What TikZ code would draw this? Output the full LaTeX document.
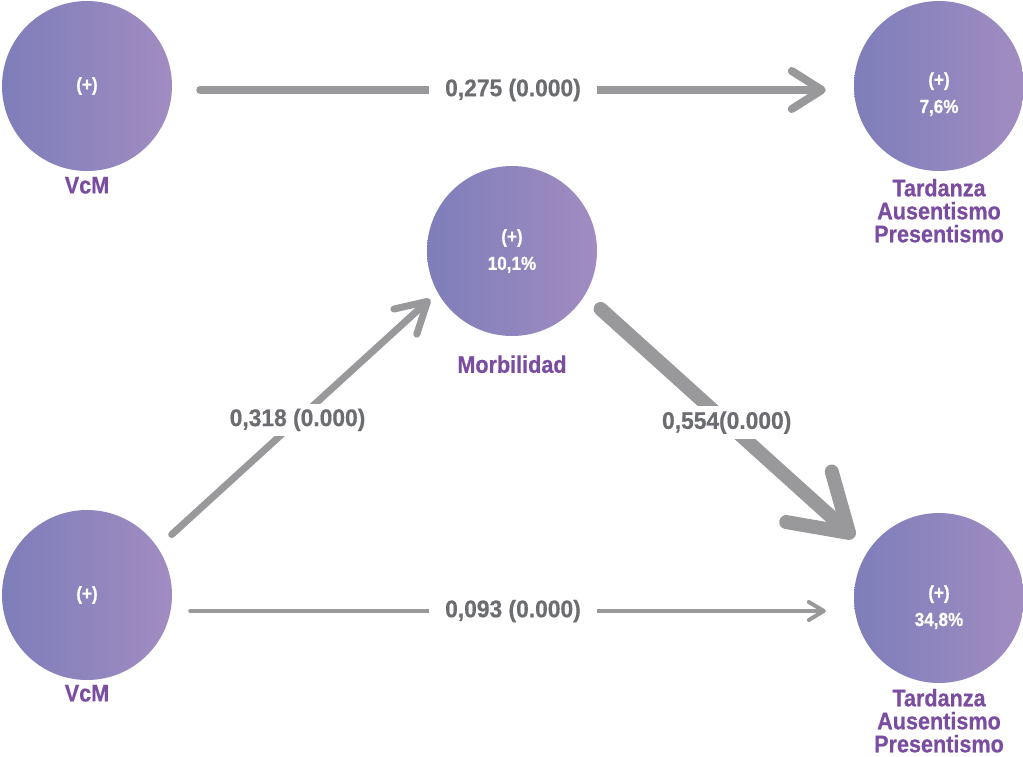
\documentclass[tikz,border=0pt]{standalone}
\usepackage{fontspec}
\setmainfont{Liberation Sans}[FakeStretch=0.9, BoldFeatures={FakeBold=0.6}]
\newfontfamily\coeffont{Liberation Sans}[FakeStretch=0.95, BoldFeatures={FakeBold=0.6}]
\usetikzlibrary{positioning,arrows.meta}

\definecolor{circleft}{HTML}{7E7EBA}
\definecolor{circright}{HTML}{A18CC1}
\definecolor{lblpurple}{HTML}{7B4DA0}
\definecolor{arrowgray}{HTML}{99999B}
\definecolor{coefgray}{HTML}{6C6D70}

\tikzset{
  construct/.style={circle, minimum size=170pt, inner sep=0pt,
    left color=circleft, right color=circright, text=white, align=center,
    font=\fontsize{19}{27}\selectfont\bfseries},
  lbl/.style={text=lblpurple, inner sep=0pt, align=center,
    font=\fontsize{24}{23}\selectfont\bfseries},
  coef/.style={fill=white, text=coefgray, inner xsep=4pt, inner ysep=5pt,
    font=\coeffont\fontsize{24}{24}\selectfont\bfseries},
  rel/.style={draw=arrowgray, line cap=round, line join=round},
}

\begin{document}
\begin{tikzpicture}[x=1pt,y=-1pt]
\useasboundingbox (0,0) rectangle (1023,756);

 % Nodes
\node[construct] (vcm1) at (87,86)   {(+)};
\node[construct, text height=57pt] (tar1) at (939,86)  {(+)\\7,6\%};
\node[construct] (morb) at (512,251) {(+)\\10,1\%};
\node[construct] (vcm2) at (87,595)  {(+)};
\node[construct, text height=59pt] (tar2) at (939,598) {(+)\\34,8\%};

\node[lbl, below=5.5pt of vcm1] (vcm1_l) {VcM};
\node[lbl, below=7.5pt of tar1] (tar1_l) {Tardanza\\Ausentismo\\Presentismo};
\node[lbl, below=19pt of morb]  (morb_l) {Morbilidad};
\node[lbl, below=4.5pt of vcm2] (vcm2_l) {VcM};
\node[lbl, below=5.5pt of tar2] (tar2_l) {Tardanza\\Ausentismo\\Presentismo};

 % Connect nodes
\draw[rel, line width=8pt, -{Straight Barb[length=30pt,width=38pt,round]},
  shorten <=28pt, shorten >=28pt]
  ([yshift=-4pt]vcm1.east) -- ([yshift=-4pt]tar1.west)
  node[coef, midway, inner xsep=16pt] (b_top) {0,275 (0.000)};
\draw[rel, line width=7pt, -{Straight Barb[length=30pt,width=34pt,round]},
  shorten <=19pt, shorten >=10pt]
  (vcm2.34) -- (morb.209)
  node[coef, midway] (b_up) {0,318 (0.000)};
\draw[rel, line width=14pt, -{Straight Barb[length=54pt,width=68pt,round]},
  shorten <=21pt, shorten >=19pt]
  (morb.329) -- (tar2.146)
  node[coef, midway] (b_down) {0,554(0.000)};
\draw[rel, line width=4pt, -{Straight Barb[length=15pt,width=18pt,round]},
  shorten <=18pt, shorten >=28pt]
  ([yshift=-16pt]vcm2.east) -- ([yshift=-13pt]tar2.west)
  node[coef, midway, inner xsep=16pt] (b_bottom) {0,093 (0.000)};

\end{tikzpicture}
\end{document}
